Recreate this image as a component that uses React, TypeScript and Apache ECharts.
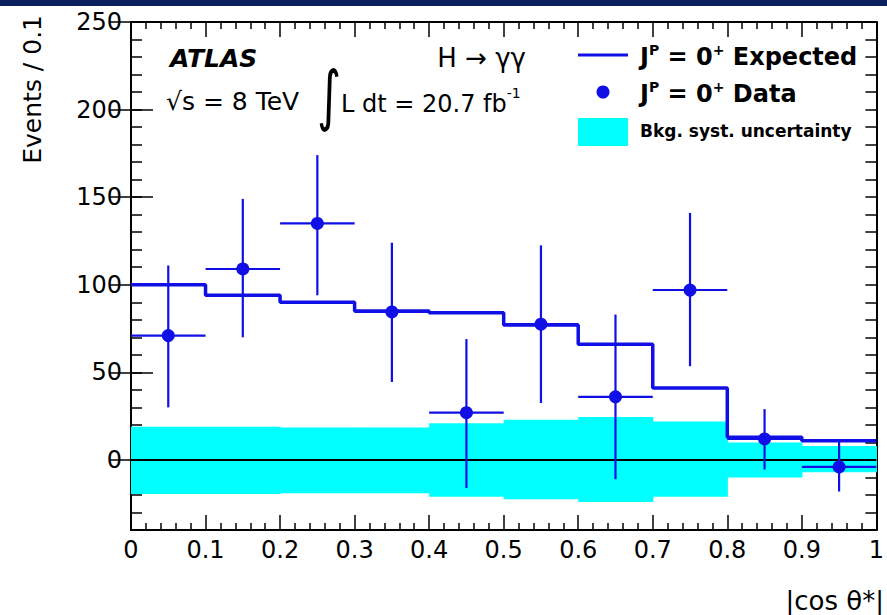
import React, { useEffect, useRef } from "react";
import * as echarts from "echarts";

// Bin edges of |cos θ*|
const binEdges = [0, 0.1, 0.2, 0.3, 0.4, 0.5, 0.6, 0.7, 0.8, 0.9, 1.0];
// J^P = 0+ expected (step histogram)
const expected = [100, 94, 90, 85, 84, 77, 66, 41, 13, 11];
// J^P = 0+ data (background subtracted)
const dataValues = [71, 109, 135, 84.5, 27, 77.5, 36, 97, 12, -4];
const errUp = [40, 40, 39, 39.5, 42, 45, 47, 44, 17, 15];
const errDown = [41, 39, 41, 40, 43, 45, 47, 43.5, 17.5, 14];
// Background systematic uncertainty band
const bandHigh = [19, 19, 18.5, 18.5, 21, 23, 24.5, 22, 10, 8];
const bandLow = [-19.5, -19.5, -19, -19, -21, -22.5, -24, -21, -10, -7];
// Tick labels
const yMajorTicks = [0, 50, 100, 150, 200, 250];

const BLUE = "#1010e6";
const FONT = "DejaVu Sans";

export default function App() {
  const ref = useRef<HTMLDivElement>(null);

  useEffect(() => {
    if (!ref.current) return;
    const chart = echarts.init(ref.current, null, { renderer: "svg" });

    const stepPts: number[][] = [];
    expected.forEach((v, i) => {
      stepPts.push([binEdges[i], v]);
      stepPts.push([binEdges[i + 1], v]);
    });
    const bandData = expected.map((_, i) => [binEdges[i], binEdges[i + 1], bandLow[i], bandHigh[i]]);
    const errData = dataValues.map((v, i) => [
      binEdges[i],
      binEdges[i + 1],
      (binEdges[i] + binEdges[i + 1]) / 2,
      v,
      v - errDown[i],
      v + errUp[i],
    ]);
    const pointData = dataValues.map((v, i) => [(binEdges[i] + binEdges[i + 1]) / 2, v]);

    const axisLine = { show: true, onZero: false, lineStyle: { color: "#000", width: 2 } };
    const xBase = (pos: "top" | "bottom", labels: boolean) => ({
      type: "value",
      position: pos,
      min: 0,
      max: 1,
      interval: 0.1,
      axisLine,
      axisTick: { show: true, inside: true, length: 15, lineStyle: { color: "#000", width: 1.5 } },
      minorTick: { show: true, splitNumber: 5, length: 7, lineStyle: { color: "#000", width: 1.5 } },
      splitLine: { show: false },
      minorSplitLine: { show: false },
      axisLabel: labels
        ? {
            show: true,
            margin: 8,
            color: "#000",
            fontFamily: FONT,
            fontSize: 24,
            formatter: (v: number) => {
              const r = Math.round(v * 10) / 10;
              return r === 0 ? "0" : r === 1 ? "1" : r.toFixed(1);
            },
          }
        : { show: false },
    });
    const yMinor = (pos: "left" | "right", labels: boolean) => ({
      type: "value",
      position: pos,
      min: -40,
      max: 250,
      interval: 10,
      axisLine,
      axisTick: { show: true, inside: true, length: 11, lineStyle: { color: "#000", width: 1.5 } },
      splitLine: { show: false },
      axisLabel: labels
        ? {
            show: true,
            margin: 9,
            color: "#000",
            fontFamily: FONT,
            fontSize: 24,
            formatter: (v: number) => (yMajorTicks.indexOf(Math.round(v)) >= 0 ? String(Math.round(v)) : ""),
          }
        : { show: false },
    });
    const yMajor = (pos: "left" | "right") => ({
      type: "value",
      position: pos,
      min: -40,
      max: 250,
      axisLine: { show: false },
      axisTick: {
        show: true,
        inside: true,
        length: 22,
        customValues: yMajorTicks,
        lineStyle: { color: "#000", width: 1.5 },
      },
      axisLabel: { show: false },
      splitLine: { show: false },
    });

    const supRich = (size: number) => ({
      b: { fontFamily: FONT, fontSize: size, fontWeight: "bold", fill: "#000", lineHeight: 28, verticalAlign: "bottom" },
      s: { fontFamily: FONT, fontSize: 14, fontWeight: "bold", fill: "#000", lineHeight: 28, verticalAlign: "top", padding: [2, 0, 0, 0] },
    });

    const option: any = {
      animation: false,
      backgroundColor: "#ffffff",
      grid: { left: 131, top: 22, right: 8, bottom: 85 },
      xAxis: [xBase("bottom", true), xBase("top", false)],
      yAxis: [yMinor("left", true), yMajor("left"), yMinor("right", false), yMajor("right")],
      series: [
        {
          type: "custom",
          name: "Bkg. syst. uncertainty",
          xAxisIndex: 0,
          yAxisIndex: 0,
          data: bandData,
          encode: { x: [0, 1], y: [2, 3] },
          renderItem: (params: any, api: any) => {
            const p0 = api.coord([api.value(0), api.value(3)]);
            const p1 = api.coord([api.value(1), api.value(2)]);
            return {
              type: "rect",
              shape: { x: p0[0], y: p0[1], width: p1[0] - p0[0] + 0.6, height: p1[1] - p0[1] },
              style: { fill: "#00ffff" },
            };
          },
          z: 1,
        },
        {
          type: "line",
          name: "zero",
          data: [
            [0, 0],
            [1, 0],
          ],
          showSymbol: false,
          symbol: "none",
          lineStyle: { color: "#000", width: 2 },
          z: 2,
        },
        {
          type: "line",
          name: "Expected",
          data: stepPts,
          showSymbol: false,
          symbol: "none",
          lineStyle: { color: BLUE, width: 3.5 },
          z: 3,
        },
        {
          type: "custom",
          name: "errors",
          data: errData,
          encode: { x: [0, 1], y: [4, 5] },
          renderItem: (params: any, api: any) => {
            const a = api.coord([api.value(0), api.value(3)]);
            const b = api.coord([api.value(1), api.value(3)]);
            const lo = api.coord([api.value(2), api.value(4)]);
            const hi = api.coord([api.value(2), api.value(5)]);
            return {
              type: "group",
              children: [
                {
                  type: "line",
                  shape: { x1: a[0], y1: a[1], x2: b[0], y2: b[1] },
                  style: { stroke: BLUE, lineWidth: 2.2 },
                },
                {
                  type: "line",
                  shape: { x1: lo[0], y1: lo[1], x2: hi[0], y2: hi[1] },
                  style: { stroke: BLUE, lineWidth: 2.2 },
                },
              ],
            };
          },
          z: 4,
        },
        {
          type: "scatter",
          name: "Data",
          data: pointData,
          symbol: "circle",
          symbolSize: 13,
          itemStyle: { color: BLUE, opacity: 1 },
          z: 5,
        },
      ],
      graphic: [
        { type: "rect", shape: { x: 0, y: 0, width: 887, height: 6 }, style: { fill: "#0b1f5c" }, z: 100 },
        {
          type: "text",
          x: 32,
          y: 15,
          rotation: Math.PI / 2,
          style: { text: "Events / 0.1", fontFamily: FONT, fontSize: 25, fill: "#000", align: "right", verticalAlign: "middle" },
        },
        {
          type: "text",
          x: 884,
          y: 601,
          style: { text: "|cos θ*|", fontFamily: FONT, fontSize: 26, fill: "#000", align: "right", verticalAlign: "middle" },
        },
        {
          type: "text",
          x: 170,
          y: 58,
          style: {
            text: "ATLAS",
            fontFamily: FONT,
            fontSize: 25,
            fontWeight: "bold",
            fontStyle: "italic",
            fill: "#000",
            align: "left",
            verticalAlign: "middle",
          },
        },
        {
          type: "text",
          x: 526,
          y: 58,
          style: { text: "H → γγ", fontFamily: FONT, fontSize: 26, fill: "#000", align: "right", verticalAlign: "middle" },
        },
        {
          type: "text",
          x: 166,
          y: 101,
          style: { text: "√s = 8 TeV", fontFamily: FONT, fontSize: 25, fill: "#000", align: "left", verticalAlign: "middle" },
        },
        {
          type: "text",
          x: 317,
          y: 95,
          scaleX: 0.7,
          style: { text: "∫", fontFamily: FONT, fontSize: 66, fill: "#000", align: "left", verticalAlign: "middle" },
        },
        {
          type: "text",
          x: 341,
          y: 101,
          style: {
            text: "{n|L dt = 20.7 fb}{s|-1}",
            fontFamily: FONT,
            fontSize: 24,
            fill: "#000",
            align: "left",
            verticalAlign: "middle",
            rich: {
              n: { fontFamily: FONT, fontSize: 24, fill: "#000", lineHeight: 30, verticalAlign: "bottom" },
              s: { fontFamily: FONT, fontSize: 14, fill: "#000", lineHeight: 30, verticalAlign: "top" },
            },
          },
        },
        // Legend
        { type: "line", shape: { x1: 578, y1: 55, x2: 628, y2: 55 }, style: { stroke: BLUE, lineWidth: 3 } },
        {
          type: "text",
          x: 640,
          y: 55,
          style: {
            text: "{b|J}{s|P}{b| = 0}{s|+}{b| Expected}",
            fontFamily: FONT,
            fontSize: 24,
            fontWeight: "bold",
            fill: "#000",
            align: "left",
            verticalAlign: "middle",
            rich: supRich(24),
          },
        },
        { type: "circle", shape: { cx: 603, cy: 92, r: 6.5 }, style: { fill: BLUE } },
        {
          type: "text",
          x: 640,
          y: 92,
          style: {
            text: "{b|J}{s|P}{b| = 0}{s|+}{b| Data}",
            fontFamily: FONT,
            fontSize: 24,
            fontWeight: "bold",
            fill: "#000",
            align: "left",
            verticalAlign: "middle",
            rich: supRich(24),
          },
        },
        { type: "rect", shape: { x: 578, y: 118, width: 50, height: 28 }, style: { fill: "#00ffff" } },
        {
          type: "text",
          x: 640,
          y: 131,
          style: {
            text: "Bkg. syst. uncertainty",
            fontFamily: FONT,
            fontSize: 17,
            fontWeight: "bold",
            fill: "#000",
            align: "left",
            verticalAlign: "middle",
          },
        },
      ],
    };

    chart.setOption(option);
    return () => chart.dispose();
  }, []);

  return <div ref={ref} style={{ position: "absolute", left: 0, top: 0, width: 887, height: 615 }} />;
}
